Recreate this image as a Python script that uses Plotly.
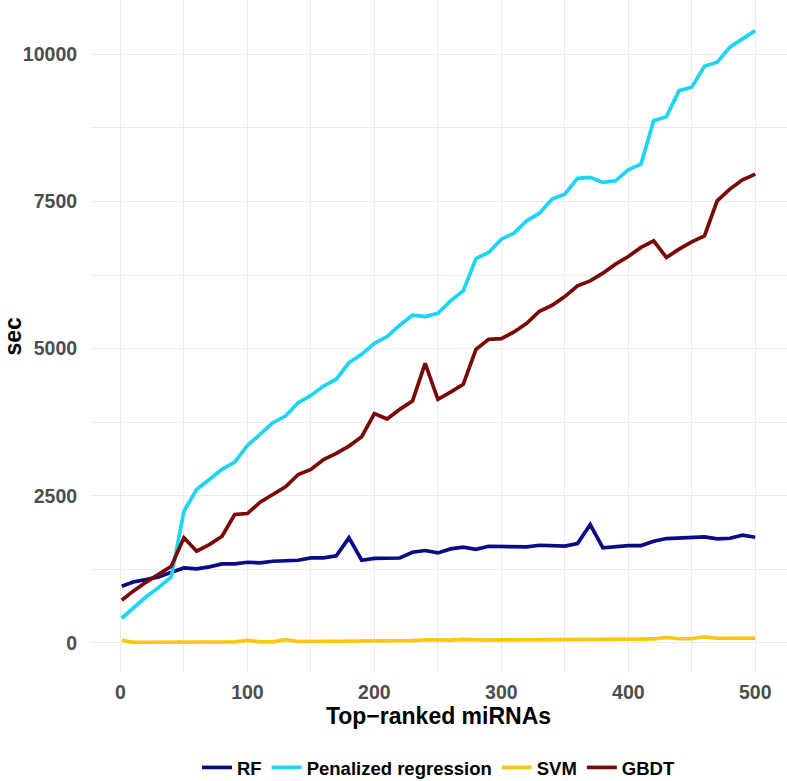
import plotly.graph_objects as go

top_ranked = [1, 10, 20, 30, 40, 50, 60, 70, 80, 90, 100, 110, 120, 130, 140, 150, 160, 170, 180, 190,
              200, 210, 220, 230, 240, 250, 260, 270, 280, 290, 300, 310, 320, 330, 340, 350, 360, 370,
              380, 390, 400, 410, 420, 430, 440, 450, 460, 470, 480, 490, 500]

rf = [963, 1037, 1077, 1122, 1201, 1275, 1258, 1292, 1343, 1343, 1371, 1360, 1388, 1400, 1405, 1445,
      1445, 1480, 1786, 1405, 1437, 1439, 1443, 1541, 1570, 1530, 1598, 1626, 1590, 1643, 1643, 1632,
      1632, 1660, 1660, 1645, 1689, 2012, 1615, 1632, 1655, 1655, 1728, 1774, 1779, 1790, 1802, 1768,
      1779, 1830, 1796]

penalized = [420, 600, 780, 940, 1120, 2238, 2607, 2777, 2948, 3072, 3355, 3543, 3741, 3854, 4082,
             4205, 4364, 4480, 4762, 4903, 5090, 5204, 5396, 5566, 5544, 5600, 5810, 5980, 6530, 6632,
             6859, 6961, 7170, 7300, 7539, 7624, 7891, 7908, 7823, 7850, 8037, 8134, 8871, 8939, 9381,
             9439, 9796, 9864, 10119, 10260, 10401]

svm = [45, 10, 12, 15, 15, 15, 15, 15, 18, 20, 45, 20, 20, 55, 25, 25, 28, 30, 30, 30, 32, 35, 35, 40,
       55, 45, 48, 60, 50, 50, 52, 52, 52, 55, 55, 57, 58, 58, 58, 60, 62, 65, 68, 95, 72, 72, 105, 80,
       80, 80, 82]

gbdt = [725, 880, 1030, 1170, 1303, 1786, 1558, 1672, 1813, 2182, 2199, 2391, 2522, 2653, 2862, 2947,
        3117, 3219, 3344, 3503, 3897, 3804, 3968, 4109, 4750, 4138, 4262, 4393, 4988, 5158, 5170, 5282,
        5430, 5635, 5736, 5884, 6065, 6150, 6281, 6434, 6565, 6718, 6830, 6548, 6689, 6813, 6915, 7510,
        7709, 7867, 7964]

series = [
    ("RF", rf, "#0B0B86"),
    ("Penalized regression", penalized, "#1CD4F4"),
    ("SVM", svm, "#F8C810"),
    ("GBDT", gbdt, "#7A0808"),
]

fig = go.Figure()
for name, vals, col in series:
    fig.add_trace(go.Scatter(x=top_ranked, y=vals, mode="lines", name="<b>" + name + "</b>",
                             line=dict(color=col, width=3.7)))

tick_font = dict(family="Liberation Sans", size=19.5, color="#4d4d4d")
grid = "#ebebeb"

fig.update_layout(
    width=787, height=781,
    margin=dict(l=90, r=0, t=0, b=108, autoexpand=False),
    plot_bgcolor="white", paper_bgcolor="white",
    font=dict(family="Liberation Sans"),
    showlegend=True,
    legend=dict(orientation="h", x=0.5, xanchor="center", y=-0.141, yanchor="middle",
                font=dict(family="Liberation Sans", size=18.5, color="black"),
                itemwidth=30, tracegroupgap=0),
    xaxis=dict(range=[-24, 525], tickvals=[0, 100, 200, 300, 400, 500],
               ticktext=["<b>0</b>", "<b>100</b>", "<b>200</b>", "<b>300</b>", "<b>400</b>", "<b>500</b>"],
               tickfont=tick_font, showgrid=True, gridcolor=grid, gridwidth=1.3, automargin=False,
               minor=dict(tickvals=[50, 150, 250, 350, 450], showgrid=True, gridcolor=grid, gridwidth=1),
               zeroline=False, showline=False, ticks="outside", ticklen=2, tickcolor="rgba(0,0,0,0)",
               title=dict(text="<b>Top\u2212ranked miRNAs</b>", font=dict(family="Liberation Sans", size=23, color="black"),
                          standoff=0)),
    yaxis=dict(range=[-510, 10921], tickvals=[0, 2500, 5000, 7500, 10000],
               ticktext=["<b>0</b>", "<b>2500</b>", "<b>5000</b>", "<b>7500</b>", "<b>10000</b>"],
               tickfont=tick_font, showgrid=True, gridcolor=grid, gridwidth=1.3, automargin=False,
               minor=dict(tickvals=[1250, 3750, 6250, 8750], showgrid=True, gridcolor=grid, gridwidth=1),
               zeroline=False, showline=False, ticks="outside", ticklen=8, tickcolor="rgba(0,0,0,0)"),
    annotations=[dict(text="<b>sec</b>", xref="paper", yref="paper", x=0, y=0.5, xshift=-78,
                      xanchor="center", yanchor="middle", textangle=-90, showarrow=False,
                      font=dict(family="Liberation Sans", size=23, color="black"))],
)

fig.write_html("out.html", config={"displayModeBar": False},
               post_script="document.body.style.margin='0';document.body.style.overflow='hidden';")
